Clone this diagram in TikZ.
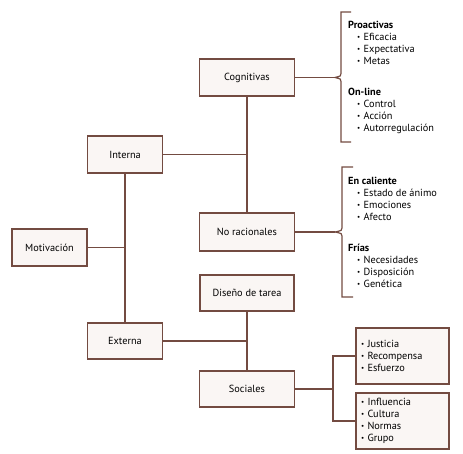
\documentclass[tikz,border=0pt]{standalone}
\usepackage{fontspec}
\setmainfont{PT Sans}
\usepackage{xcolor}
\usepackage{tikz}

\definecolor{lineBrown}{RGB}{115,75,65}
\definecolor{boxFill}{RGB}{250,246,244}
\newcommand{\bul}{\makebox[6.5pt][l]{\raisebox{0.8pt}{\scriptsize\textbullet}}}
\newcommand{\itm}[1]{\hspace*{9pt}\bul #1}

\begin{document}
\begin{tikzpicture}[x=1pt,y=1pt,yscale=-1,xscale=1,
    concept/.style={draw=lineBrown,fill=boxFill,line width=1.2pt,inner sep=0pt,font=\fontsize{10.3}{12}\selectfont},
    listbox/.style={concept,inner xsep=5pt,text width=83pt,minimum height=56pt,align=left},
    link/.style={draw=lineBrown,line width=1.2pt},
    brace/.style={draw=lineBrown,line width=1.2pt},
    group/.style={anchor=north west,inner sep=0pt,align=left,font=\fontsize{10.3}{12}\selectfont}]
        \useasboundingbox (0,0) rectangle (463,454);

        % concept boxes
        \node [concept,minimum width=95pt,minimum height=37pt] (cog) at (247,77.5) {Cognitivas};
        \node [concept,minimum width=75pt,minimum height=37pt] (inter) at (125,154.5) {Interna};
        \node [concept,minimum width=75pt,minimum height=37pt] (motiv) at (49.5,247.5) {Motivación};
        \node [concept,minimum width=95pt,minimum height=38pt] (norac) at (247,232) {No racionales};
        \node [concept,minimum width=94pt,minimum height=36pt] (disen) at (247,293) {Diseño de tarea};
        \node [concept,minimum width=75pt,minimum height=36pt] (exter) at (125,341) {Externa};
        \node [concept,minimum width=95pt,minimum height=36pt] (soc) at (247,389) {Sociales};
        \node [listbox] (justo) at (402.5,356) {\bul Justicia\\ \bul Recompensa\\ \bul Esfuerzo};
        \node [listbox] (grupo) at (402.5,421) {\bul Influencia\\ \bul Cultura\\ \bul Normas\\ \bul Grupo};

        % connectors
        \draw [link] (cog.south) -- (norac.north);
        \draw [link] (inter.east) -- (inter.east -| cog.south);
        \draw [link] (inter.south) -- (exter.north);
        \draw [link] (motiv.east) -- (motiv.east -| inter.south);
        \draw [link] (disen.south) -- (soc.north);
        \draw [link] (exter.east) -- (exter.east -| disen.south);
        \coordinate (fork) at (333,389);
        \draw [link] (soc.east) -- (fork);
        \draw [link] (justo.west) -| (fork) |- (grupo.west);

        % braces
        \coordinate (tipA) at (335,77.5);
        \coordinate (tipB) at (335,232);
        \draw [link] (cog.east) -- (tipA);
        \draw [link] (norac.east) -- (tipB);
        \draw [brace] (351,12) -- (341,12) -- (341,73.5) .. controls (341,76) .. (tipA) .. controls (341,79) .. (341,81.5) -- (341,142) -- (351,142);
        \draw [brace] (353,167) -- (342,167) -- (342,228) .. controls (342,230.5) .. (tipB) .. controls (342,233.5) .. (342,236) -- (342,297) -- (353,297);

        % lists
        \node [group] (proact) at (348,21) {\textbf{Proactivas}\\ \itm{Eficacia}\\ \itm{Expectativa}\\ \itm{Metas}};
        \node [group] (online) at (348,88) {\textbf{On-line}\\ \itm{Control}\\ \itm{Acción}\\ \itm{Autorregulación}};
        \node [group] (calien) at (348,177) {\textbf{En caliente}\\ \itm{Estado de ánimo}\\ \itm{Emociones}\\ \itm{Afecto}};
        \node [group] (frias) at (348,244) {\textbf{Frías}\\ \itm{Necesidades}\\ \itm{Disposición}\\ \itm{Genética}};
    \end{tikzpicture}
\end{document}
